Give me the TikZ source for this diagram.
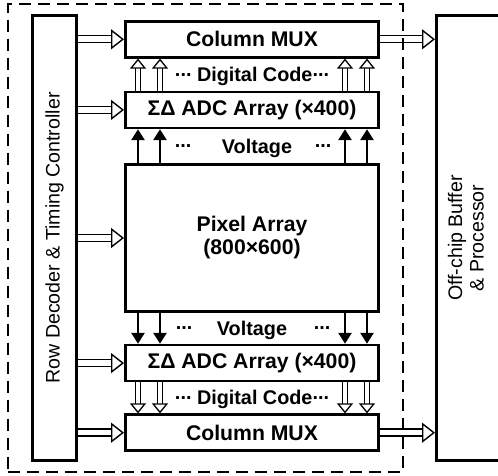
\documentclass[tikz,border=0pt]{standalone}
\usepackage{fontspec}
\setmainfont{Liberation Sans}
\usetikzlibrary{arrows.meta,fit,positioning}
\newcommand{\middots}{\raisebox{0.27em}{...}}
\tikzset{
  block/.style={
    draw,
    line width=2.6pt,
    minimum width=253.4pt,
    minimum height=36pt,
    align=center,
    font=\bfseries\fontsize{21.2}{23}\selectfont
  },
  sidebox/.style={
    draw,
    line width=2.6pt,
    minimum width=#1,
    minimum height=445pt,
    align=center,
    font=\fontsize{19.6}{21.5}\selectfont
  },
  tag/.style={
    inner sep=0pt,
    text height=14pt,
    text depth=0pt,
    font=\bfseries\fontsize{19.8}{21}\selectfont
  },
  bus/.style={line width=1.4pt,double=white,double distance=5.6pt,
    -{Triangle[open,fill=white,length=13pt,width=20pt,line width=1.4pt]}},
  busv/.style={line width=1.3pt,double=white,double distance=4.3pt,
    -{Triangle[open,fill=white,length=10pt,width=16pt,line width=1.3pt]}},
  arrow/.style={line width=2.6pt,-{Triangle[length=11pt,width=13pt]}},
  faint/.style={draw,line width=1.6pt,dash pattern=on 12pt off 7pt,inner xsep=23pt,inner ysep=10pt}
}

\begin{document}
\begin{tikzpicture}[x=1pt,y=1pt]
  \useasboundingbox (0,0) rectangle (498,476);
  \node[block] (colmux1) at (252,436.7) {Column MUX};
  \node[block, below=32pt of colmux1] (adc1) {ΣΔ ADC Array (×400)};
  \node[block, below=34pt of adc1, minimum height=147pt] (pixel) {Pixel Array\\(800×600)};
  \node[block, below=31pt of pixel] (adc2) {ΣΔ ADC Array (×400)};
  \node[block, below=31pt of adc2] (colmux2) {Column MUX};
  \node[sidebox=44.4pt, left=46pt of pixel] (row) {\rotatebox{90}{Row Decoder \& Timing Controller}};
  \node[sidebox=64.4pt, right=55pt of pixel] (offchip) {\rotatebox{90}{\begin{tabular}{@{}c@{}}Off-chip Buffer\\\& Processor\end{tabular}}};

  \draw[bus] (colmux1.west -| row.east) -- (colmux1.west);
  \draw[bus] (adc1.west -| row.east) -- (adc1.west);
  \draw[bus] (pixel.west -| row.east) -- (pixel.west);
  \draw[bus] (adc2.west -| row.east) -- (adc2.west);
  \draw[bus] (colmux2.west -| row.east) -- (colmux2.west);
  \draw[bus] (colmux1.east) -- (colmux1.east -| offchip.west);
  \draw[bus] (colmux2.east) -- (colmux2.east -| offchip.west);

  \foreach \dx in {-114,-92,93,115} {
    \draw[busv] ([xshift=\dx pt]adc1.north) -- ([xshift=\dx pt]colmux1.south);
    \draw[arrow] ([xshift=\dx pt]pixel.north) -- ([xshift=\dx pt]adc1.south);
    \draw[arrow] ([xshift=\dx pt]pixel.south) -- ([xshift=\dx pt]adc2.north);
    \draw[busv] ([xshift=\dx pt]adc2.south) -- ([xshift=\dx pt]colmux2.north);
  }

  \path (colmux1.south) -- node[tag] (code1) {\middots{} Digital Code\middots} (adc1.north);
  \path (adc1.south) -- node[tag, xshift=5pt] (volt1) {Voltage}
    node[tag, xshift=-69pt] (volt1l) {\middots} node[tag, xshift=71pt] (volt1r) {\middots} (pixel.north);
  \path (pixel.south) -- node[tag] (volt2) {Voltage}
    node[tag, xshift=-68pt] (volt2l) {\middots} node[tag, xshift=70pt] (volt2r) {\middots} (adc2.north);
  \path (adc2.south) -- node[tag] (code2) {\middots{} Digital Code\middots} (colmux2.north);

  \node[faint, fit=(row)(colmux1)(colmux2)] (chip) {};
\end{tikzpicture}
\end{document}
